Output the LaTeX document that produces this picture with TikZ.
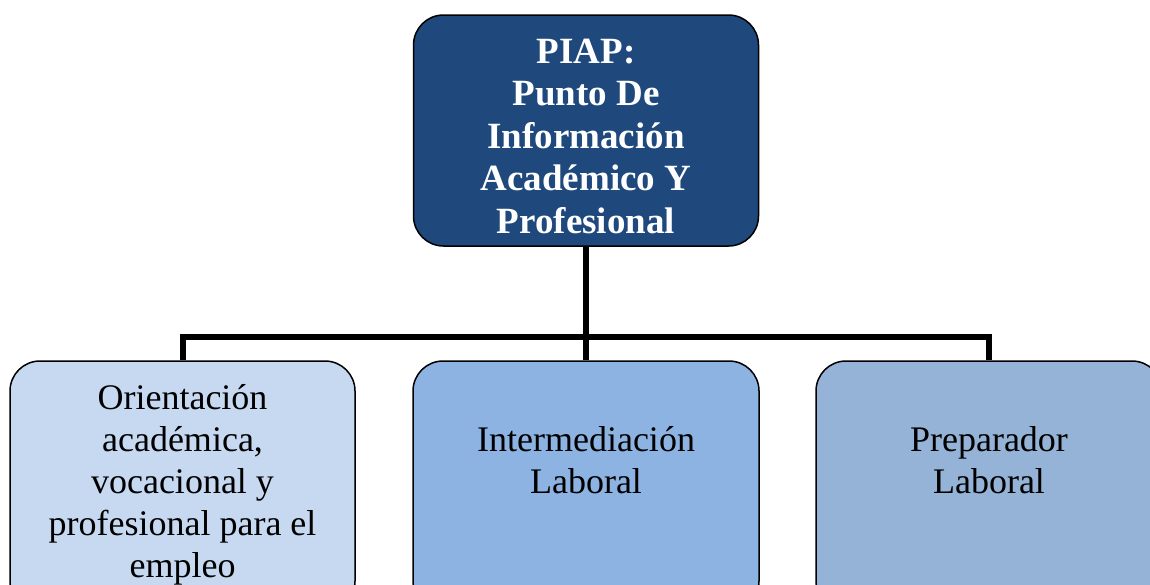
\documentclass[tikz,border=0pt]{standalone}
\usepackage{fontspec}
\setmainfont{Liberation Serif}
\definecolor{topblue}{HTML}{1F497D}
\definecolor{lightblue}{HTML}{C6D9F1}
\definecolor{midblue}{HTML}{8DB3E2}
\definecolor{rightblue}{HTML}{95B3D7}
\begin{document}
\begin{tikzpicture}[x=1pt,y=-1pt,
  box/.style={draw=black, line width=1.5pt, rounded corners=30pt, inner sep=0pt},
  link/.style={draw=black, line width=6pt},
  toptxt/.style={text=white, align=center, inner sep=0pt,
    font=\fontsize{37}{42.5}\selectfont\bfseries},
  subtxt/.style={text=black, align=center, inner sep=0pt,
    font=\fontsize{36}{42}\selectfont}]
\useasboundingbox (0,0) rectangle (1150,584);
\node[box, fill=topblue, minimum width=345pt, minimum height=231pt] (top) at (586,130.5) {};
\node[box, fill=lightblue, minimum width=345pt, minimum height=250pt] (left) at (182.5,486) {};
\node[box, fill=midblue, minimum width=346pt, minimum height=250pt] (mid) at (586,486) {};
\node[box, fill=rightblue, minimum width=346pt, minimum height=250pt] (right) at (989,486) {};
\coordinate (bar) at (0,337);
\draw[link] (top.south) -- (mid.north);
\draw[link] (left.north) -- (left.north |- bar) -- (right.north |- bar) -- (right.north);
\node[toptxt, anchor=base] (toptext) at (586,233) {PIAP:\\Punto De\\Información\\Académico Y\\Profesional};
\node[subtxt, anchor=base] (lefttext) at (182.5,577) {Orientación\\académica,\\vocacional y\\profesional para el\\empleo};
\node[subtxt, anchor=base] (midtext) at (586,493) {Intermediación\\Laboral};
\node[subtxt, anchor=base] (righttext) at (989,493) {Preparador\\Laboral};
\end{tikzpicture}
\end{document}
